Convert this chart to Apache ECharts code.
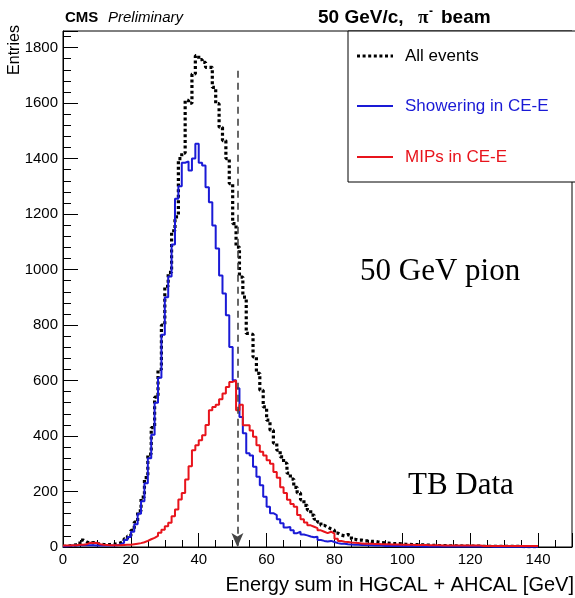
<!DOCTYPE html>
<html><head><meta charset="utf-8">
<script src="https://cdn.jsdelivr.net/npm/echarts@6/dist/echarts.min.js"></script>
<style>html,body{margin:0;padding:0;background:#fff}#c{width:575px;height:598px}</style>
</head><body><div id="c"></div>
<script>
// Histogram bins: 1 GeV wide, lower edges 0..149
const binLow = Array.from({length: 150}, (_, i) => i);

const allEvents = [
  2,4,6,8,10,25,18,14,16,12, 10,9,9,9,10,12,15,20,30,40,
  60,90,130,180,250,335,430,540,640,800, 940,990,1140,1190,1400,1420,1610,1600,1705,1771,
  1757,1747,1729,1729,1657,1598,1513,1465,1400,1310, 1166,1081,973,901,770,766,685,626,565,505,
  457,421,374,349,325,302,266,245,215,195, 170,150,133,115,100,90,78,72,65,60,
  50,43,40,45,40,28,25,25,22,22, 20,20,18,16,15,14,13,12,12,11,
  10,10,9,9,8,8,7,7,6,6, 5,5,5,4,4,4,4,3,3,3,
  3,3,3,2,2,2,2,2,2,2, 2,2,2,2,2,1,1,1,1,1
];
const showering = [
  3,4,5,5,6,6,6,6,6,5, 5,5,5,5,5,6,10,15,25,36,
  55,82,120,165,230,320,405,520,610,765, 900,975,1090,1255,1300,1385,1390,1357,1400,1454,
  1385,1375,1297,1243,1159,1076,979,914,835,721, 601,572,469,410,338,330,289,253,223,181,
  145,122,115,100,86,70,72,60,50,55, 45,42,38,35,37,25,22,20,22,18,
  14,12,12,10,9,8,8,7,7,6, 6,5,5,5,4,4,4,4,4,3,
  3,3,3,4,3,2,2,2,2,2, 2,2,2,2,2,2,2,2,2,2,
  2,3,2,2,2,2,1,1,1,1, 1,1,1,1,1,1,1,1,1,1
];
const mips = [
  5,5,6,6,8,8,10,15,14,15, 10,8,7,6,6,6,6,7,8,8,
  10,12,14,17,22,28,33,40,51,62, 75,87,111,135,171,195,243,291,349,367,
  385,403,440,493,505,513,533,553,577,595, 600,493,513,439,439,420,397,367,343,330,
  313,300,270,250,215,195,170,155,145,115, 100,88,78,73,68,60,55,50,55,48,
  30,22,19,18,16,15,14,13,12,12, 12,11,11,10,10,10,9,9,9,8,
  8,8,8,7,7,7,7,6,6,6, 6,5,5,5,5,5,5,5,5,5,
  5,5,5,4,4,4,4,4,4,4, 4,4,4,4,4,4,4,4,4,4
];
const seriesNames = ['All events', 'Showering in CE-E', 'MIPs in CE-E'];
const seriesColors = ['#000000', '#1a1ad6', '#e8141c'];
const xTicks = [0, 20, 40, 60, 80, 100, 120, 140];
const yTicks = [0, 200, 400, 600, 800, 1000, 1200, 1400, 1600, 1800];
const cutEnergy = 51.4;     // dashed arrow position [GeV]
const cutTop = 1717;        // top of dashed arrow [entries]

function toSteps(vals) {
  const d = binLow.map((e, i) => [e, vals[i]]);
  d.push([binLow[binLow.length - 1] + 1, vals[vals.length - 1]]);
  return d;
}

const FONT = 'Liberation Sans';
const DOT = [3, 2.6];
const legendY = [56, 106, 157];
const legendGraphics = [];
seriesNames.forEach((n, i) => {
  legendGraphics.push({type: 'line', shape: {x1: 357, y1: legendY[i], x2: 393, y2: legendY[i]},
    style: {stroke: seriesColors[i], lineWidth: i === 0 ? 3.2 : 2, lineDash: i === 0 ? DOT : null}, z: 10});
  legendGraphics.push({type: 'text', x: 405, y: legendY[i],
    style: {text: n, font: '17px "Liberation Sans"', fill: seriesColors[i], textVerticalAlign: 'middle'}, z: 10});
});

function hText(x, txt, font) {
  return {type: 'text', x: x, y: 18, style: {text: txt, font: font, fill: '#000', textVerticalAlign: 'middle'}};
}

const chart = echarts.init(document.getElementById('c'), null, {renderer: 'canvas'});
chart.setOption({
  backgroundColor: '#fff',
  animation: false,
  grid: {left: 63, right: 0, top: 31, bottom: 51, show: true, borderColor: '#000', borderWidth: 1, containLabel: false},
  xAxis: {
    type: 'value', min: 0, max: 150, interval: 20,
    axisLine: {lineStyle: {color: '#000', width: 1}},
    axisTick: {inside: true, length: 14, lineStyle: {color: '#000'}},
    minorTick: {show: true, splitNumber: 4, length: 7, lineStyle: {color: '#000'}},
    axisLabel: {fontFamily: FONT, fontSize: 15, color: '#000', margin: 5,
      formatter: v => xTicks.includes(v) ? String(v) : ''},
    splitLine: {show: false}
  },
  yAxis: {
    type: 'value', min: 0, max: 1860, interval: 200,
    axisLine: {show: true, lineStyle: {color: '#000', width: 1}},
    axisTick: {inside: true, length: 15, lineStyle: {color: '#000'}},
    minorTick: {show: true, splitNumber: 5, length: 8, lineStyle: {color: '#000'}},
    axisLabel: {fontFamily: FONT, fontSize: 15, color: '#000', margin: 5, showMaxLabel: false,
      formatter: v => yTicks.includes(v) ? String(v) : ''},
    splitLine: {show: false}
  },
  graphic: [
    {type: 'rect', shape: {x: 348, y: 31, width: 240, height: 151}, style: {fill: '#fff', stroke: '#000', lineWidth: 1}, z: 9},
    ...legendGraphics,
    hText(65, 'CMS', 'bold 15px "Liberation Sans"'),
    hText(108, 'Preliminary', 'italic 15px "Liberation Sans"'),
    hText(318, '50 GeV/c,', 'bold 19px "Liberation Sans"'),
    hText(418, '\u03c0', 'bold 19px "Liberation Serif"'),
    {type: 'text', x: 429, y: 12, style: {text: '-', font: 'bold 12px "Liberation Sans"', fill: '#000', textVerticalAlign: 'middle'}},
    hText(441, 'beam', 'bold 19px "Liberation Sans"'),
    {type: 'text', x: 15, y: 50, rotation: Math.PI / 2,
      style: {text: 'Entries', font: '16px "Liberation Sans"', fill: '#000', textAlign: 'center', textVerticalAlign: 'middle'}},
    {type: 'text', x: 574, y: 585,
      style: {text: 'Energy sum in HGCAL + AHCAL [GeV]', font: '20px "Liberation Sans"', fill: '#000', textAlign: 'right', textVerticalAlign: 'middle'}},
    {type: 'text', left: 360, top: 256, style: {text: '50 GeV pion', font: '31px "Liberation Serif"', fill: '#000'}},
    {type: 'text', left: 408, top: 470, style: {text: 'TB Data', font: '31px "Liberation Serif"', fill: '#000'}}
  ],
  series: [
    {
      name: seriesNames[0], type: 'line', step: 'end', showSymbol: false, symbol: 'none',
      data: toSteps(allEvents), z: 2,
      lineStyle: {color: seriesColors[0], width: 3.2, type: DOT},
      markLine: {
        silent: true, symbol: ['none', 'arrow'], symbolSize: [9, 14],
        label: {show: false},
        lineStyle: {color: '#444', width: 1.6, type: [7, 5]},
        data: [[{coord: [cutEnergy, cutTop]}, {coord: [cutEnergy, 0]}]]
      }
    },
    {
      name: seriesNames[1], type: 'line', step: 'end', showSymbol: false, symbol: 'none',
      data: toSteps(showering), z: 3,
      lineStyle: {color: seriesColors[1], width: 2}
    },
    {
      name: seriesNames[2], type: 'line', step: 'end', showSymbol: false, symbol: 'none',
      data: toSteps(mips), z: 4,
      lineStyle: {color: seriesColors[2], width: 2}
    }
  ]
});
</script></body></html>
